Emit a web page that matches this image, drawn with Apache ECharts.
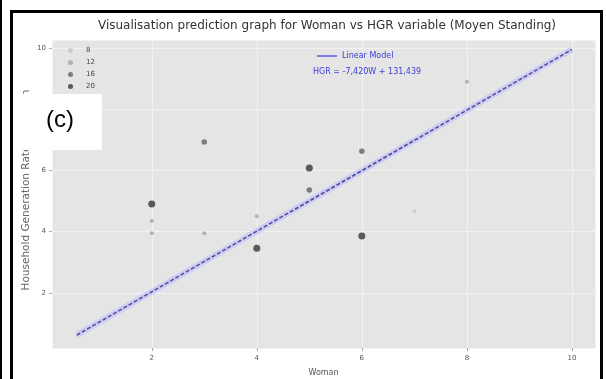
<!DOCTYPE html>
<html>
<head>
<meta charset="utf-8">
<script src="https://cdn.jsdelivr.net/npm/echarts@6/dist/echarts.min.js"></script>
<style>
  html, body { margin: 0; padding: 0; background: #fff; }
  #chart { width: 606px; height: 379px; }
</style>
</head>
<body>
<div id="chart"></div>
<script>
// Observed values: number of women in the household vs HGR prediction
const womanX   = [2, 2, 2, 3, 3, 4, 4, 5, 5, 6, 6, 7, 8];
const hgrY     = [4.9, 4.35, 3.95, 6.93, 3.95, 4.5, 3.46, 6.08, 5.36, 6.63, 3.86, 4.67, 8.9];
const sizeVal  = [20, 12, 12, 16, 12, 12, 20, 20, 16, 16, 20, 8, 12];

// Size classes shown in the legend
const sizeClasses = [8, 12, 16, 20];

// Fitted linear model drawn across the plot
const fitX = [0.57, 10];
const fitY = [0.62, 9.95];

const equationText = 'HGR = -7,420W + 131,439';

const markerPx    = { 8: 3.5, 12: 4, 16: 5.5, 20: 7 };
const markerColor = { 8: '#c4c4c4', 12: '#a4a4a4', 16: '#616161', 20: '#363636' };

const scatterSeries = sizeClasses.map(function (s) {
  const pts = [];
  for (let i = 0; i < womanX.length; i++) {
    if (sizeVal[i] === s) pts.push([womanX[i], hgrY[i]]);
  }
  return {
    name: String(s),
    type: 'scatter',
    data: pts,
    symbolSize: markerPx[s],
    itemStyle: { color: markerColor[s] },
    z: 5
  };
});

const fitData = fitX.map(function (x, i) { return [x, fitY[i]]; });

const chart = echarts.init(document.getElementById('chart'), null, { renderer: 'canvas' });

chart.setOption({
  backgroundColor: '#ffffff',
  animation: false,
  title: {
    text: 'Visualisation prediction graph for Woman vs HGR variable (Moyen Standing)',
    left: 322,
    textAlign: 'center',
    top: 15,
    textStyle: { fontFamily: 'DejaVu Sans', fontSize: 12, fontWeight: 'normal', color: '#333' }
  },
  legend: [
    {
      data: sizeClasses.map(String),
      orient: 'vertical',
      left: 63,
      top: 42,
      icon: 'circle',
      itemWidth: 5,
      itemHeight: 5,
      itemGap: 5,
      textStyle: { fontFamily: 'DejaVu Sans', fontSize: 7, color: '#444', padding: [0, 0, 0, 8] },
      selectedMode: false
    },
    {
      data: [{ name: 'Linear Model', icon: 'rect', itemStyle: { color: '#5a5ae0' } }],
      left: 312,
      top: 47,
      itemWidth: 20,
      itemHeight: 1.5,
      itemGap: 4,
      textStyle: { fontFamily: 'DejaVu Sans', fontSize: 8, color: '#3c3cd8' },
      selectedMode: false
    }
  ],
  grid: {
    left: 52, right: 11, top: 40, bottom: 31,
    containLabel: false, outerBoundsMode: 'none',
    backgroundColor: '#e5e5e5', show: true, borderWidth: 0
  },
  xAxis: {
    type: 'value',
    min: 0.1,
    max: 10.44,
    name: 'Woman',
    nameLocation: 'middle',
    nameGap: 21,
    nameMoveOverlap: false,
    nameTextStyle: { fontFamily: 'DejaVu Sans', fontSize: 8, color: '#555' },
    axisLine: { show: false },
    axisTick: { show: true, length: 3, lineStyle: { color: '#aaa' } },
    axisLabel: { showMinLabel: false, showMaxLabel: false, fontFamily: 'DejaVu Sans', fontSize: 7, color: '#555', margin: 7 },
    splitLine: { show: true, lineStyle: { color: '#f2f2f2', width: 1 } }
  },
  yAxis: {
    type: 'value',
    min: 0.2,
    max: 10.26,
    name: 'Household Generation Rate prediction',
    nameLocation: 'middle',
    nameGap: 20,
    nameMoveOverlap: false,
    nameTextStyle: { fontFamily: 'DejaVu Sans', fontSize: 10.5, color: '#666', padding: [0, 0, 0, 8] },
    axisLine: { show: false },
    axisTick: { show: true, length: 3, lineStyle: { color: '#aaa' } },
    axisLabel: { showMinLabel: false, showMaxLabel: false, fontFamily: 'DejaVu Sans', fontSize: 7, color: '#555', margin: 6 },
    splitLine: { show: true, lineStyle: { color: '#f2f2f2', width: 1 } }
  },
  series: [
    {
      name: 'fit-halo',
      type: 'line',
      data: fitData,
      symbol: 'none',
      lineStyle: { color: 'rgba(200,200,250,0.85)', width: 6 },
      z: 3,
      silent: true
    },
    {
      name: 'Linear Model',
      type: 'line',
      data: fitData,
      symbol: 'none',
      itemStyle: { color: '#5a5ae0' },
      lineStyle: { color: '#4d4d8c', width: 1.5, type: [4, 2] },
      z: 4,
      silent: true
    }
  ].concat(scatterSeries),
  graphic: [
    {
      type: 'text',
      left: 313,
      top: 68,
      style: { text: equationText, fontFamily: 'DejaVu Sans', fontSize: 8, fill: '#3c3cd8' },
      z: 10
    },
    {
      type: 'rect',
      shape: { x: 14, y: 94, width: 88, height: 56 },
      style: { fill: '#ffffff' },
      z: 20
    },
    {
      type: 'text',
      left: 46,
      top: 108,
      style: { text: '(c)', fontFamily: 'Liberation Sans', fontSize: 24, fill: '#000' },
      z: 21
    },
    // image frame
    {
      type: 'rect',
      shape: { x: 11.5, y: 11.5, width: 590, height: 380 },
      style: { fill: 'none', stroke: '#000', lineWidth: 3 },
      z: 30
    },
    {
      type: 'rect',
      shape: { x: 0, y: 0, width: 2, height: 379 },
      style: { fill: '#000' },
      z: 30
    }
  ]
});
</script>
</body>
</html>
